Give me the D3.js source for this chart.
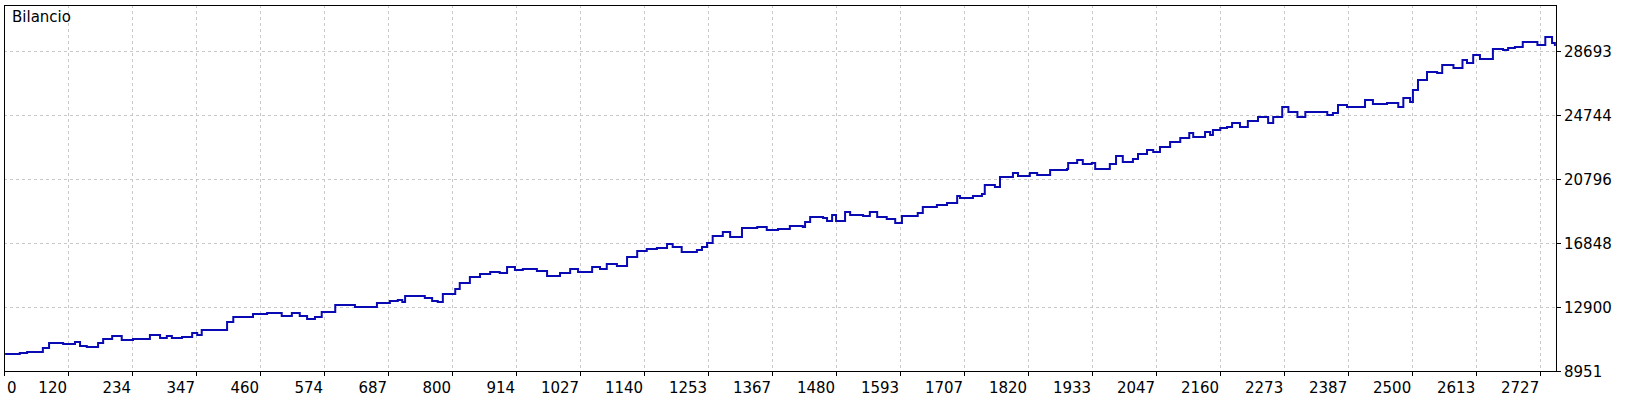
<!DOCTYPE html><html><head><meta charset="utf-8"><script src="https://cdn.jsdelivr.net/npm/d3@7"></script>
<style>body{margin:0;background:#fff}svg{display:block}text{font-family:"DejaVu Sans",sans-serif}</style></head><body><svg id="c" width="1640" height="400"></svg>
<script>
const title="Bilancio";
const xTickLabels=["0","120","234","347","460","574","687","800","914","1027","1140","1253","1367","1480","1593","1707","1820","1933","2047","2160","2273","2387","2500","2613","2727"];
const yTickLabels=["8951","12900","16848","20796","24744","28693"];
const yTickValues=[8951,12899,16848,20796,24744,28693];
const tradeIdx=[2,28,41,64,69,80,105,126,135,147,167,176,192,209,229,259,277,289,298,316,334,343,351,371,396,407,431,442,467,485,493,511,525,538,552,564,575,588,602,623,644,662,685,699,707,712,747,760,770,779,801,809,827,845,863,880,893,907,921,946,964,987,1005,1019,1044,1058,1070,1088,1106,1124,1141,1159,1177,1187,1203,1230,1239,1248,1258,1276,1289,1310,1337,1354,1374,1395,1418,1422,1431,1445,1454,1461,1470,1477,1493,1502,1525,1537,1550,1567,1582,1594,1622,1631,1656,1674,1692,1697,1720,1736,1741,1759,1768,1791,1800,1821,1834,1857,1887,1889,1905,1915,1931,1937,1945,1963,1974,1986,2004,2013,2029,2040,2052,2070,2088,2104,2111,2132,2141,2146,2159,2171,2180,2194,2208,2226,2244,2253,2269,2280,2296,2310,2331,2349,2359,2368,2384,2402,2416,2430,2455,2475,2484,2496,2501,2510,2526,2544,2553,2573,2589,2597,2608,2620,2633,2643,2661,2670,2682,2696,2722,2736,2748,2753];
const balance=[10000,10061,10123,10123,10370,10678,10617,10740,10493,10432,10678,10925,11110,10863,10925,11172,10987,11110,10987,11048,11295,11172,11480,11480,11974,12282,12282,12467,12529,12529,12344,12529,12344,12159,12282,12591,12591,13023,13023,12899,12899,13146,13269,13331,13208,13578,13454,13269,13208,13701,14010,14380,14750,14935,15058,14997,15367,15182,15243,15120,14812,14997,15243,15058,15367,15243,15552,15428,15984,16354,16477,16539,16786,16601,16292,16415,16601,16847,17279,17526,17218,17773,17835,17650,17711,17896,17835,18143,18451,18451,18390,18204,18575,18204,18760,18575,18513,18760,18451,18328,18081,18513,18698,19068,19192,19315,19747,19624,19747,19870,20425,20302,20919,21166,20981,21166,21043,21351,21413,21783,21968,21721,21783,21413,21413,21721,22215,21845,22029,22338,22584,22461,22769,23078,23325,23633,23387,23695,23510,23818,23941,24003,24250,24003,24374,24620,24250,24620,25237,24929,24620,24929,24929,24744,24867,25361,25237,25237,25669,25422,25484,25237,25792,25546,26286,26903,27396,27335,27828,27643,28137,27951,28445,28198,28198,28815,28753,28877,28938,29247,29062,29556,29185,29000];

const L=4,R=1556,T=5,B=371;
const svg=d3.select("#c");
const x=d3.scaleLinear().domain([0,2755]).range([L,R]);
const y=d3.scaleLinear().domain([8951,8951+3948.4*(B-T)/64]).range([B,T]);
const xTickVals=xTickLabels.map((d,i)=>i*2727/24);
const g=svg.append("g");
// grid
g.selectAll(".vg").data(xTickVals.slice(1)).join("line").attr("x1",d=>Math.round(x(d))+.5).attr("x2",d=>Math.round(x(d))+.5).attr("y1",T).attr("y2",B).attr("stroke","#c8c8c8").attr("stroke-dasharray","3,3");
g.selectAll(".hg").data(yTickValues.slice(1)).join("line").attr("x1",L).attr("x2",R).attr("y1",d=>Math.round(y(d))+.5).attr("y2",d=>Math.round(y(d))+.5).attr("stroke","#c8c8c8").attr("stroke-dasharray","3,3");
// line
const pts=tradeIdx.map((d,i)=>[d,balance[i]]);
svg.append("path").datum(pts).attr("fill","none").attr("stroke","#0a0ab4").attr("stroke-width",2)
 .attr("d",d3.line().x(d=>x(d[0])).y(d=>y(d[1])).curve(d3.curveStepAfter));
// frame
svg.append("rect").attr("x",L+.5).attr("y",T+.5).attr("width",R-L).attr("height",B-T).attr("fill","none").attr("stroke","#000");
// x axis ticks
svg.selectAll(".xt").data(xTickVals).join("line").attr("x1",d=>Math.round(x(d))+.5).attr("x2",d=>Math.round(x(d))+.5).attr("y1",B).attr("y2",B+5).attr("stroke","#000");
svg.selectAll(".xl").data(xTickVals).join("text").attr("x",(d,i)=>i==0?x(d)+3:x(d)-1).attr("y",393)
 .attr("text-anchor",(d,i)=>i==0?"start":"end").attr("font-size",15).text((d,i)=>xTickLabels[i]);
// y axis ticks
svg.selectAll(".yt").data(yTickValues).join("line").attr("x1",R).attr("x2",R+5).attr("y1",d=>Math.round(y(d))+.5).attr("y2",d=>Math.round(y(d))+.5).attr("stroke","#000");
svg.selectAll(".yl").data(yTickValues).join("text").attr("x",R+8).attr("y",d=>y(d)+6).attr("font-size",15).text((d,i)=>yTickLabels[i]);
svg.append("text").attr("x",12).attr("y",22).attr("font-size",15).text(title);
</script></body></html>
